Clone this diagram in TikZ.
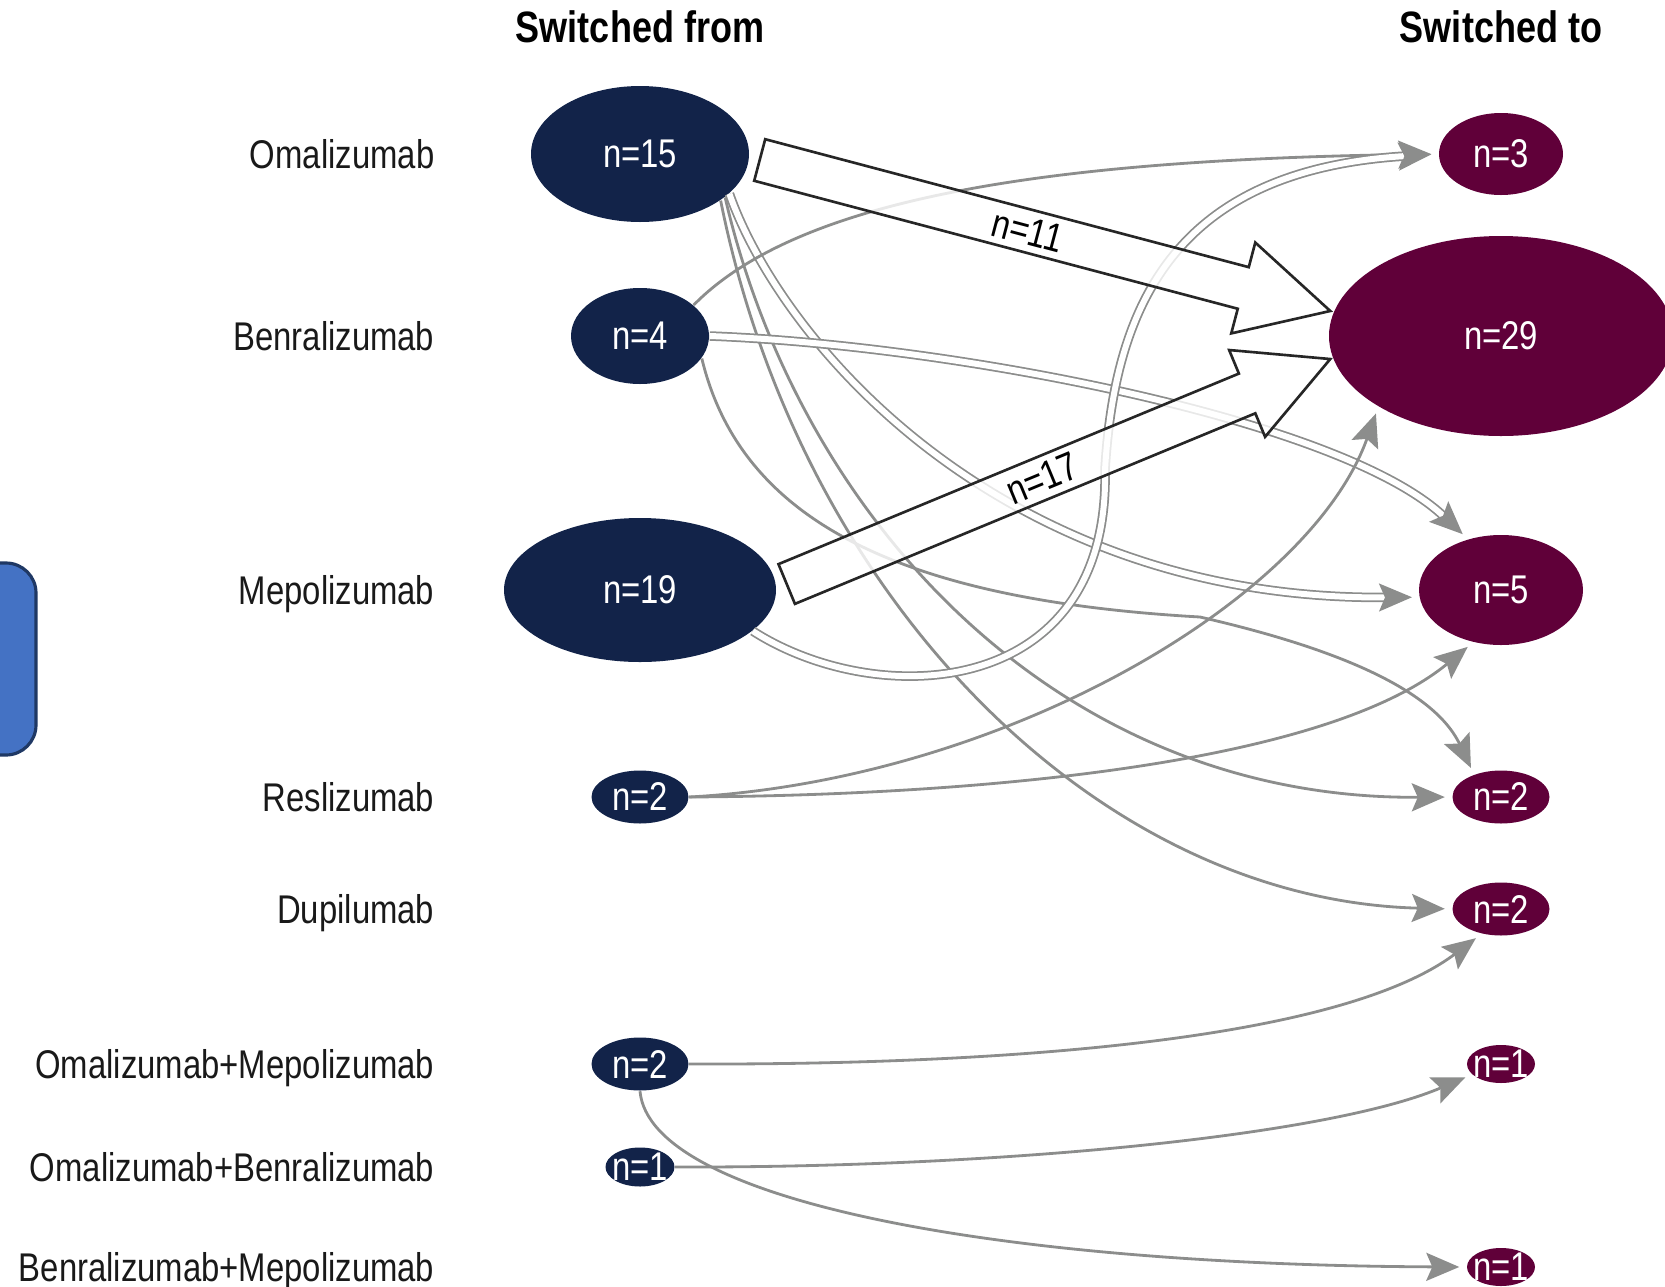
\documentclass[tikz,border=0pt]{standalone}
\usepackage{fontspec}
\setmainfont{Liberation Sans}[FakeStretch=0.82]
\usepackage{tikz}
\usetikzlibrary{arrows.meta,calc,shapes.geometric}

\definecolor{srcblue}{RGB}{18,35,73}
\definecolor{tgtred}{RGB}{96,0,57}
\definecolor{linkgray}{RGB}{140,141,140}
\definecolor{boxblue}{RGB}{68,114,196}
\definecolor{boxedge}{RGB}{31,56,100}

\tikzset{
  src/.style={ellipse, fill=srcblue, text=white, inner sep=0pt},
  tgt/.style={ellipse, fill=tgtred, text=white, inner sep=0pt},
  tiny/.style={inner xsep=-0.05cm, inner ysep=-0.02cm},
  drug/.style={anchor=base east, inner sep=0pt, text=black!90},
  head/.style={font=\fontsize{12.5}{15}\selectfont\bfseries},
  link/.style={draw=linkgray, line width=0.8pt, shorten >=0.07cm,
    -{Stealth[length=0.33cm,width=0.28cm,inset=0.06cm]}},
  dlink/.style={link, line width=0.5pt, double=white, double distance=0.06cm},
  fat/.style={draw=black!85, line width=0.75pt, fill=white, fill opacity=0.8, text opacity=1},
}

% wide block arrow from #1 to #2, label #3 along the shaft
\newcommand\fatarrow[3]{%
  \draw[fat] let \p1=($(#2)-(#1)$), \n1={atan2(\y1,\x1)}, \n2={veclen(\x1,\y1)} in
    [shift={(#1)}, rotate=\n1]
    (0cm,0.215cm) -- ({\n2*1pt-0.9cm},0.215cm) -- ({\n2*1pt-0.9cm},0.47cm) -- ({\n2*1pt},0cm)
    -- ({\n2*1pt-0.9cm},-0.47cm) -- ({\n2*1pt-0.9cm},-0.215cm) -- (0cm,-0.215cm) -- cycle
    ({0.47*\n2*1pt},0cm) node[rotate=\n1, text=black] {#3};}

\begin{document}
\begin{tikzpicture}[font=\fontsize{11.4}{13.5}\selectfont]
\useasboundingbox (0,0) rectangle (16.65,-12.87);

\draw[fill=boxblue, draw=boxedge, line width=0.9pt, rounded corners=0.3cm] (-0.6,-5.63) rectangle (0.36,-7.55);

\node[head] (hfrom) at (6.40,-0.27) {Switched from};
\node[head] (hto) at (15.01,-0.27) {Switched to};

% drug names
\node[drug] (dOma) at (4.35,-1.685) {Omalizumab};
\node[drug] (dBen) at (4.35,-3.505) {Benralizumab};
\node[drug] (dMep) at (4.35,-6.045) {Mepolizumab};
\node[drug] (dRes) at (4.35,-8.115) {Reslizumab};
\node[drug] (dDup) at (4.35,-9.235) {Dupilumab};
\node[drug] (dOmMep) at (4.35,-10.785) {Omalizumab+Mepolizumab};
\node[drug] (dOmBen) at (4.35,-11.815) {Omalizumab+Benralizumab};
\node[drug] (dBenMep) at (4.35,-12.815) {Benralizumab+Mepolizumab};

% switched from
\node[src, minimum width=2.18cm, minimum height=1.36cm] (s15) at (6.40,-1.54) {n=15};
\node[src, minimum width=1.38cm, minimum height=0.96cm] (s4) at (6.40,-3.36) {n=4};
\node[src, minimum width=2.72cm, minimum height=1.44cm] (s19) at (6.40,-5.90) {n=19};
\node[src, minimum width=0.97cm, minimum height=0.53cm] (s2r) at (6.40,-7.97) {n=2};
\node[src, minimum width=0.97cm, minimum height=0.53cm] (s2om) at (6.40,-10.64) {n=2};
\node[src, tiny, minimum width=0.69cm, minimum height=0.39cm] (s1ob) at (6.40,-11.67) {n=1};

% switched to
\node[tgt, minimum width=1.24cm, minimum height=0.82cm] (t3) at (15.01,-1.54) {n=3};
\node[tgt, minimum width=3.44cm, minimum height=2.0cm] (t29) at (15.01,-3.36) {n=29};
\node[tgt, minimum width=1.64cm, minimum height=1.10cm] (t5) at (15.01,-5.90) {n=5};
\node[tgt, minimum width=0.97cm, minimum height=0.53cm] (t2r) at (15.01,-7.97) {n=2};
\node[tgt, minimum width=0.97cm, minimum height=0.53cm] (t2d) at (15.01,-9.09) {n=2};
\node[tgt, tiny, minimum width=0.68cm, minimum height=0.38cm] (t1om) at (15.01,-10.64) {n=1};
\node[tgt, tiny, minimum width=0.68cm, minimum height=0.38cm] (t1bm) at (15.01,-12.67) {n=1};

% from Omalizumab
\draw[dlink] (s15.-24) .. controls +(0.51,-1.46) and +(-4.20,-0.03) .. (t5.185);
\draw[link] (s15.-27) .. controls +(0.75,-3.23) and +(-3.93,-0.03) .. (t2r.west);
\draw[link] (s15.-30) .. controls +(0.80,-4.00) and +(-3.53,0.09) .. (t2d.west);
% from Benralizumab
\draw[link] (s4.30) .. controls +(1.05,1.07) and +(-3.90,-0.06) .. (t3.west);
\draw[dlink] (s4.east) .. controls +(2.41,-0.09) and +(-1.28,1.20) .. (t5.123);
\draw[link] (s4.-20) .. controls +(0.39,-1.62) and +(-3.00,0.17) .. (12.00,-6.17)
  .. controls +(1.00,-0.23) and +(-0.45,0.95) .. (t2r.140);
% from Mepolizumab
\draw[dlink] (s19.-20) .. controls +(1.25,-0.80) and +(0.05,-2.30) .. (11.05,-4.70)
  .. controls +(0.10,1.70) and +(-2.59,-0.16) .. (t3.west);
% from Reslizumab
\draw[link] (s2r.east) .. controls +(3.12,0.17) and +(-0.69,-1.94) .. (t29.210);
\draw[link] (s2r.east) .. controls +(3.12,0.02) and +(-1.43,-1.18) .. (t5.242);
% combinations
\draw[link] (s2om.east) .. controls +(3.12,-0.01) and +(-1.42,-1.07) .. (t2d.232);
\draw[link] (s2om.south) .. controls +(0.10,-1.10) and +(-4.67,0.02) .. (t1bm.west);
\draw[link] (s1ob.east) .. controls +(3.26,-0.01) and +(-1.43,-0.61) .. (t1om.200);

% the two big switches to n=29
\coordinate (A) at ($(s15.east)+(0.10,-0.06)$);
\coordinate (B) at ($(t29.west)+(0.02,0.25)$);
\coordinate (C) at ($(s19.east)+(0.10,0.06)$);
\coordinate (D) at ($(t29.west)+(0.02,-0.23)$);
\fatarrow{A}{B}{n=11}
\fatarrow{C}{D}{n=17}
\end{tikzpicture}
\end{document}
